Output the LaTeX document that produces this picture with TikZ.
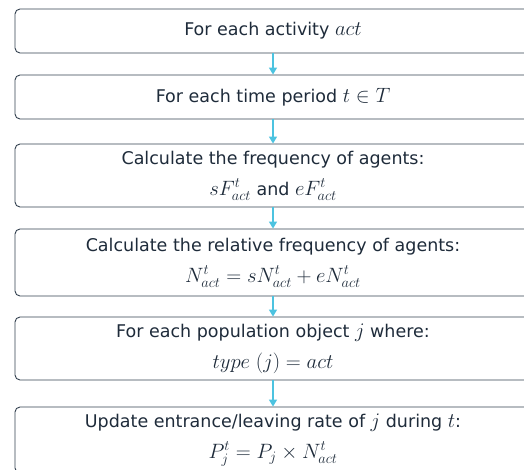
\documentclass[tikz,border=0pt]{standalone}
\usepackage{amsmath}
\usepackage{fontspec}
\setmainfont{DejaVu Sans}
\usepackage{tikz}
\usetikzlibrary{arrows.meta}
\definecolor{boxline}{HTML}{33414F}
\definecolor{boxtext}{HTML}{1E2B3A}
\definecolor{flowcyan}{HTML}{4CC3E0}
\newcommand{\mth}[1]{{\fontsize{21.5}{31}\selectfont$#1$}}

\begin{document}
\begin{tikzpicture}[x=1pt,y=1pt,
  stepbox/.style={draw=boxline,line width=0.9pt,rounded corners=5pt,text=boxtext,
    minimum width=516pt,align=center,font=\fontsize{17.5}{31}\selectfont,inner sep=0pt},
  flow/.style={-{Triangle[width=8pt,length=7pt]},draw=flowcyan,line width=1.4pt}]
\def\XC{273};
\useasboundingbox (0,0) rectangle (524,-470);
\node[stepbox,minimum height=44pt] (act) at (\XC,-31) {For each activity \mth{act}};
\node[stepbox,minimum height=44pt] (per) at (\XC,-97) {For each time period \mth{t\in T}};
\node[stepbox,minimum height=63pt] (freq) at (\XC,-175.5) {Calculate the frequency of agents:\\\mth{sF^{t}_{act}} and \mth{eF^{t}_{act}}};
\node[stepbox,minimum height=67pt] (rel) at (\XC,-262.5) {Calculate the relative frequency of agents:\\\mth{N^{t}_{act}=sN^{t}_{act}+eN^{t}_{act}}};
\node[stepbox,minimum height=63pt] (pop) at (\XC,-348.5) {For each population object \mth{j} where:\\\mth{type\;(j)=act}};
\node[stepbox,minimum height=66pt] (rate) at (\XC,-440) {Update entrance/leaving rate of \mth{j} during \mth{t}:\\\mth{P^{t}_{j}=P_{j}\times N^{t}_{act}}};
\draw[flow] (act)--(per);
\draw[flow] (per)--(freq);
\draw[flow] (freq)--(rel);
\draw[flow] (rel)--(pop);
\draw[flow] (pop)--(rate);
\end{tikzpicture}
\end{document}
